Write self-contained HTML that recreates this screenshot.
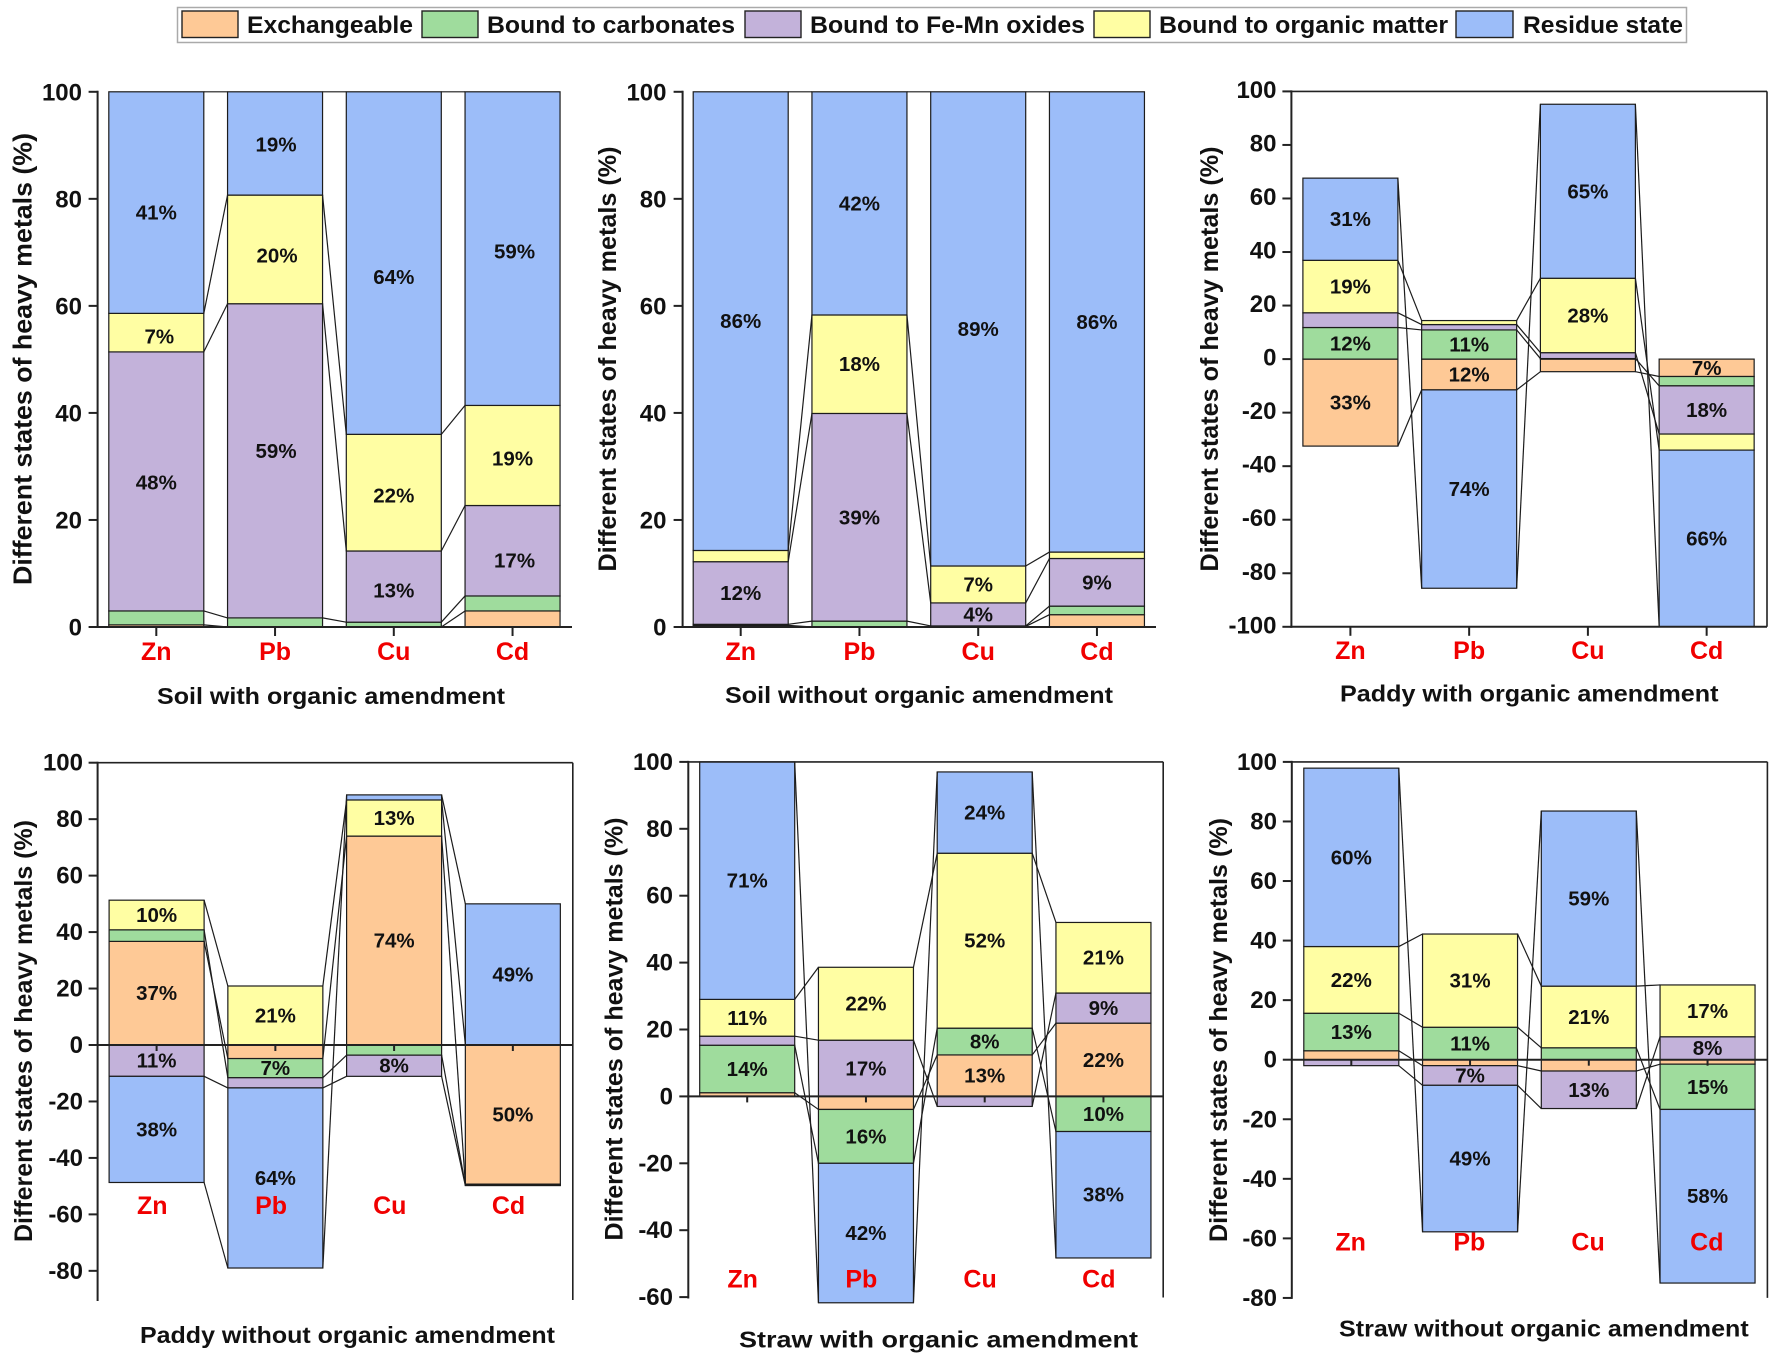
<!DOCTYPE html>
<html lang="en">
<head>
<meta charset="utf-8">
<title>Heavy metal fractions by treatment</title>
<style>
html,body{margin:0;padding:0;background:#fff;}
svg{display:block;font-family:"Liberation Sans",Arial,sans-serif;filter:blur(0.35px);}
.bold{font-weight:bold;fill:#111;}
</style>
</head>
<body>
<svg id="chart" xmlns="http://www.w3.org/2000/svg" width="1772" height="1358" viewBox="0 0 1772 1358">
  <rect x="0" y="0" width="1772" height="1358" fill="#fff"/>
  <g>
    <rect x="177.5" y="7.5" width="1509" height="35" fill="#fff" stroke="#aaa" stroke-width="1.5"/>
    <rect x="182" y="11" width="56" height="26.5" fill="#fec996" stroke="#222" stroke-width="1.4"/>
    <text class="bold" x="247" y="33" font-size="24" textLength="166" lengthAdjust="spacingAndGlyphs">Exchangeable</text>
    <rect x="422" y="11" width="56" height="26.5" fill="#9fdc9d" stroke="#222" stroke-width="1.4"/>
    <text class="bold" x="487" y="33" font-size="24" textLength="248" lengthAdjust="spacingAndGlyphs">Bound to carbonates</text>
    <rect x="745" y="11" width="56" height="26.5" fill="#c3b2da" stroke="#222" stroke-width="1.4"/>
    <text class="bold" x="810" y="33" font-size="24" textLength="275" lengthAdjust="spacingAndGlyphs">Bound to Fe-Mn oxides</text>
    <rect x="1094" y="11" width="56" height="26.5" fill="#fffea3" stroke="#222" stroke-width="1.4"/>
    <text class="bold" x="1159" y="33" font-size="24" textLength="289" lengthAdjust="spacingAndGlyphs">Bound to organic matter</text>
    <rect x="1456" y="11" width="57" height="26.5" fill="#9cbdf9" stroke="#222" stroke-width="1.4"/>
    <text class="bold" x="1523" y="33" font-size="24" textLength="160" lengthAdjust="spacingAndGlyphs">Residue state</text>
  </g>
</svg>
<script>
const categories = ['Zn', 'Pb', 'Cu', 'Cd'];
const seriesKeys = ['exchangeable', 'carbonates', 'fe-mn-oxides', 'organic-matter', 'residue'];
const seriesColors = ['#fec996', '#9fdc9d', '#c3b2da', '#fffea3', '#9cbdf9'];

// Each values array: one row per fraction, one column per metal (Zn, Pb, Cu, Cd).
const soilWithValues = [
  [0.4, 0, 0, 3],
  [2.6, 1.7, 0.9, 2.8],
  [48.4, 58.7, 13.3, 16.9],
  [7.2, 20.3, 21.8, 18.7],
  [41.4, 19.3, 64, 58.6]
];
const soilWithLabels = [
  [null, null, null, null],
  [null, null, null, null],
  ['48%', '59%', '13%', '17%'],
  ['7%', '20%', '22%', '19%'],
  ['41%', '19%', '64%', '59%']
];
const soilWithoutValues = [
  [0.3, 0, 0.1, 2.3],
  [0.2, 1.1, 0.1, 1.6],
  [11.7, 38.8, 4.3, 8.9],
  [2.1, 18.4, 6.9, 1.2],
  [85.7, 41.7, 88.6, 86]
];
const soilWithoutLabels = [
  [null, null, null, null],
  [null, null, null, null],
  ['12%', '39%', '4%', '9%'],
  [null, '18%', '7%', null],
  ['86%', '42%', '89%', '86%']
];
const paddyWithValues = [
  [-32.5, -11.5, -4.7, -6.5],
  [11.8, 10.9, 0.2, -3.5],
  [5.5, 2, 2.2, -18],
  [19.6, 1.5, 27.8, -6],
  [30.7, -74.1, 65, -66]
];
const paddyWithLabels = [
  ['33%', '12%', null, '7%'],
  ['12%', '11%', null, null],
  [null, null, null, '18%'],
  ['19%', null, '28%', null],
  ['31%', '74%', '65%', '66%']
];
const paddyWithoutValues = [
  [36.7, -4.8, 74, -49.3],
  [4.1, -6.8, -3.6, -0.3],
  [-11.1, -3.6, -7.5, -0.2],
  [10.5, 20.9, 12.8, 0.1],
  [-37.6, -63.8, 1.8, 49.9]
];
const paddyWithoutLabels = [
  ['37%', null, '74%', '50%'],
  [null, '7%', null, null],
  ['11%', null, '8%', null],
  ['10%', '21%', '13%', null],
  ['38%', '64%', null, '49%']
];
const strawWithValues = [
  [1.1, -3.9, 12.4, 21.9],
  [14.2, -16.1, 8, -10.5],
  [2.7, 16.8, -3, 9],
  [11, 21.8, 52.3, 21.1],
  [71, -41.7, 24.3, -37.8]
];
const strawWithLabels = [
  [null, null, '13%', '22%'],
  ['14%', '16%', '8%', '10%'],
  [null, '17%', null, '9%'],
  ['11%', '22%', '52%', '21%'],
  ['71%', '42%', '24%', '38%']
];
const strawWithoutValues = [
  [3, -2, -3.8, -1.5],
  [12.6, 10.9, 4, -15.2],
  [-2, -6.6, -12.6, 7.7],
  [22.4, 31.3, 20.7, 17.4],
  [59.9, -49.2, 58.8, -58.3]
];
const strawWithoutLabels = [
  [null, null, null, null],
  ['13%', '11%', null, '15%'],
  [null, '7%', '13%', '8%'],
  ['22%', '31%', '21%', '17%'],
  ['60%', '49%', '59%', '58%']
];

// Tick labels per axis.
const ticksZeroTo100 = [0, 20, 40, 60, 80, 100];
const ticksPaddyWith = [-100, -80, -60, -40, -20, 0, 20, 40, 60, 80, 100];
const ticksTo80 = [-80, -60, -40, -20, 0, 20, 40, 60, 80, 100];
const ticksTo60 = [-60, -40, -20, 0, 20, 40, 60, 80, 100];

const yTitle = 'Different states of heavy metals (%)';

// Panel layout (geometry only; data lives in the arrays above).
// Hand placement of the percent labels in the first panel: "category-series" -> pixel shift from segment centre.
const soilWithLabelShift = {
  '0-4': [0, 10], '0-3': [3, 4], '0-2': [0, 1],
  '1-4': [1, 1], '1-3': [2, 6], '1-2': [1, -10],
  '2-4': [0, 14], '2-3': [0, 3], '2-2': [0, 4],
  '3-4': [2, 3], '3-3': [0, 3], '3-2': [2, 10]
};
const panels = [
  {id:'soil-with', title:'Soil with organic amendment', values:soilWithValues, labels:soilWithLabels, ticks:ticksZeroTo100, shift:soilWithLabelShift, tickDy:8.5,
   axisX:97.6, axisR:572, y0:627, k:5.352, bottomY:627, frame:false, barC:156.3, catC:156.3, catY:660, tickDown:9, tickLabelX:82,
   yT:{x:23.5,y:359,len:452,fs:26}, xT:{x:157,y:704,len:348}},
  {id:'soil-without', title:'Soil without organic amendment', values:soilWithoutValues, labels:soilWithoutLabels, ticks:ticksZeroTo100, shift:{}, tickDy:8.5,
   axisX:682.6, axisR:1156, y0:627, k:5.352, bottomY:627, frame:false, barC:740.7, catC:740.7, catY:660, tickDown:9, tickLabelX:666.5,
   yT:{x:608,y:359,len:425,fs:25}, xT:{x:725,y:703,len:388}},
  {id:'paddy-with', title:'Paddy with organic amendment', values:paddyWithValues, labels:paddyWithLabels, ticks:ticksPaddyWith, shift:{}, tickDy:6.5,
   axisX:1291.4, axisR:1767, y0:359.1, k:2.677, bottomY:626.8, frame:true, barC:1350.4, catC:1350.4, catY:659, tickDown:9, tickLabelX:1276.5, xAxisAtBottom:true,
   yT:{x:1210,y:359,len:425,fs:25}, xT:{x:1340,y:701.6,len:378.5}},
  {id:'paddy-without', title:'Paddy without organic amendment', values:paddyWithoutValues, labels:paddyWithoutLabels, ticks:ticksTo80, shift:{}, tickDy:8,
   axisX:97.6, axisR:572.8, y0:1045, k:2.823, bottomY:1300, frame:true, barC:156.6, catC:152.3, catY:1214, tickDown:6, tickLabelX:83,
   yT:{x:24,y:1031,len:422,fs:25}, xT:{x:140,y:1343,len:415}},
  {id:'straw-with', title:'Straw with organic amendment', values:strawWithValues, labels:strawWithLabels, ticks:ticksTo60, shift:{}, tickDy:8,
   axisX:688.3, axisR:1163.2, y0:1096.4, k:3.345, bottomY:1297.5, frame:true, barC:747.2, catC:742.6, catY:1287.6, tickDown:6, tickLabelX:673,
   yT:{x:614.5,y:1029,len:423,fs:25}, xT:{x:739,y:1347.4,len:399}},
  {id:'straw-without', title:'Straw without organic amendment', values:strawWithoutValues, labels:strawWithoutLabels, ticks:ticksTo80, shift:{}, tickDy:8,
   axisX:1291.8, axisR:1767.4, y0:1059.7, k:2.978, bottomY:1297.9, frame:true, barC:1351.3, catC:1350.6, catY:1250.6, tickDown:6, tickLabelX:1277,
   yT:{x:1219,y:1030,len:424,fs:25}, xT:{x:1339,y:1336.4,len:409.7}}
];
const barStep = 118.75;
const barWidth = 95;

const NS = 'http://www.w3.org/2000/svg';
const svg = document.getElementById('chart');

function make(tag, attrs, parent) {
  const node = document.createElementNS(NS, tag);
  for (const key in attrs) node.setAttribute(key, attrs[key]);
  parent.appendChild(node);
  return node;
}

function stackSegments(values) {
  // Positive values stack upward from zero, negative values stack downward.
  return categories.map(function (_, c) {
    let up = 0, down = 0;
    return values.map(function (row) {
      const v = row[c];
      let start, end;
      if (v >= 0) { start = up; up += v; end = up; }
      else { start = down; down += v; end = down; }
      return {start: start, end: end, v: v};
    });
  });
}

panels.forEach(function (p) {
  const y = function (v) { return p.y0 - v * p.k; };
  const barX = function (c) { return p.barC + c * barStep; };
  const catX = function (c) { return p.catC + c * barStep; };
  const stacks = stackSegments(p.values);

  const g = make('g', {}, svg);
  
  

  // Stacked bars
  categories.forEach(function (cat, c) {
    stacks[c].forEach(function (seg, s) {
      if (seg.v === 0) return;
      const rect = make('rect', {
        x: barX(c) - barWidth / 2,
        y: Math.min(y(seg.start), y(seg.end)),
        width: barWidth,
        height: Math.abs(y(seg.end) - y(seg.start)),
        fill: seriesColors[s],
        stroke: '#1c1c1c',
        'stroke-width': 1.2
      }, g);
      
      
    });
  });

  // Connect lines between stacked levels of neighbouring bars
  for (let c = 0; c < categories.length - 1; c++) {
    seriesKeys.forEach(function (key, s) {
      const line = make('line', {
        x1: barX(c) + barWidth / 2,
        y1: y(stacks[c][s].end),
        x2: barX(c + 1) - barWidth / 2,
        y2: y(stacks[c + 1][s].end),
        stroke: '#1c1c1c',
        'stroke-width': 1.2
      }, g);
      
      
    });
  }

  // Y axis
  const topY = y(100);
  const yAxis = make('line', {x1: p.axisX, y1: topY - 1, x2: p.axisX, y2: p.bottomY + 1, stroke: '#222', 'stroke-width': 2}, g);
  
  

  // Frame for panels that have one
  if (p.frame) {
    const topLine = make('line', {x1: p.axisX, y1: topY, x2: p.axisR, y2: topY, stroke: '#222', 'stroke-width': 1.6}, g);
    
    
    const rightLine = make('line', {x1: p.axisR, y1: topY, x2: p.axisR, y2: p.bottomY, stroke: '#222', 'stroke-width': 1.6}, g);
    
    
  }

  // X axis
  const xAxisY = p.xAxisAtBottom ? p.bottomY : p.y0;
  const xAxis = make('line', {x1: p.axisX - 1, y1: xAxisY, x2: p.axisR, y2: xAxisY, stroke: '#222', 'stroke-width': 2}, g);
  
  

  // Y ticks and labels
  p.ticks.forEach(function (t) {
    const tick = make('line', {x1: p.axisX - 9, y1: y(t), x2: p.axisX, y2: y(t), stroke: '#222', 'stroke-width': 2}, g);
    
    
    const lab = make('text', {x: p.tickLabelX, y: y(t) + p.tickDy, 'text-anchor': 'end', 'font-size': 24, class: 'bold'}, g);
    
    
    lab.textContent = String(t);
  });

  // X ticks and category labels
  categories.forEach(function (cat, c) {
    const tick = make('line', {x1: barX(c), y1: xAxisY, x2: barX(c), y2: xAxisY + p.tickDown, stroke: '#222', 'stroke-width': 2}, g);
    
    
    const lab = make('text', {x: catX(c), y: p.catY, 'text-anchor': 'middle', 'font-size': 25, 'font-weight': 'bold', fill: '#f00000'}, g);
    
    
    lab.textContent = cat;
  });

  // Percent labels in segments
  categories.forEach(function (cat, c) {
    stacks[c].forEach(function (seg, s) {
      const txt = p.labels[s][c];
      if (txt === null) return;
      const shift = p.shift[c + '-' + s] || [0, 0];
      const lab = make('text', {x: barX(c) + shift[0], y: y((seg.start + seg.end) / 2) + 7 + shift[1], 'text-anchor': 'middle', 'font-size': 20.5, class: 'bold'}, g);
      
      
      lab.textContent = txt;
    });
  });

  // Axis titles
  const yt = make('text', {
    transform: 'translate(' + (p.yT.x + 8) + ' ' + p.yT.y + ') rotate(-90)',
    'text-anchor': 'start', x: -p.yT.len / 2, y: 0, 'font-size': p.yT.fs,
    textLength: p.yT.len, lengthAdjust: 'spacingAndGlyphs', class: 'bold'
  }, g);
  
  
  yt.textContent = yTitle;

  const xt = make('text', {
    x: p.xT.x, y: p.xT.y, 'font-size': 23,
    textLength: p.xT.len, lengthAdjust: 'spacingAndGlyphs', class: 'bold'
  }, g);
  
  
  xt.textContent = p.title;
});
</script>
</body>
</html>
